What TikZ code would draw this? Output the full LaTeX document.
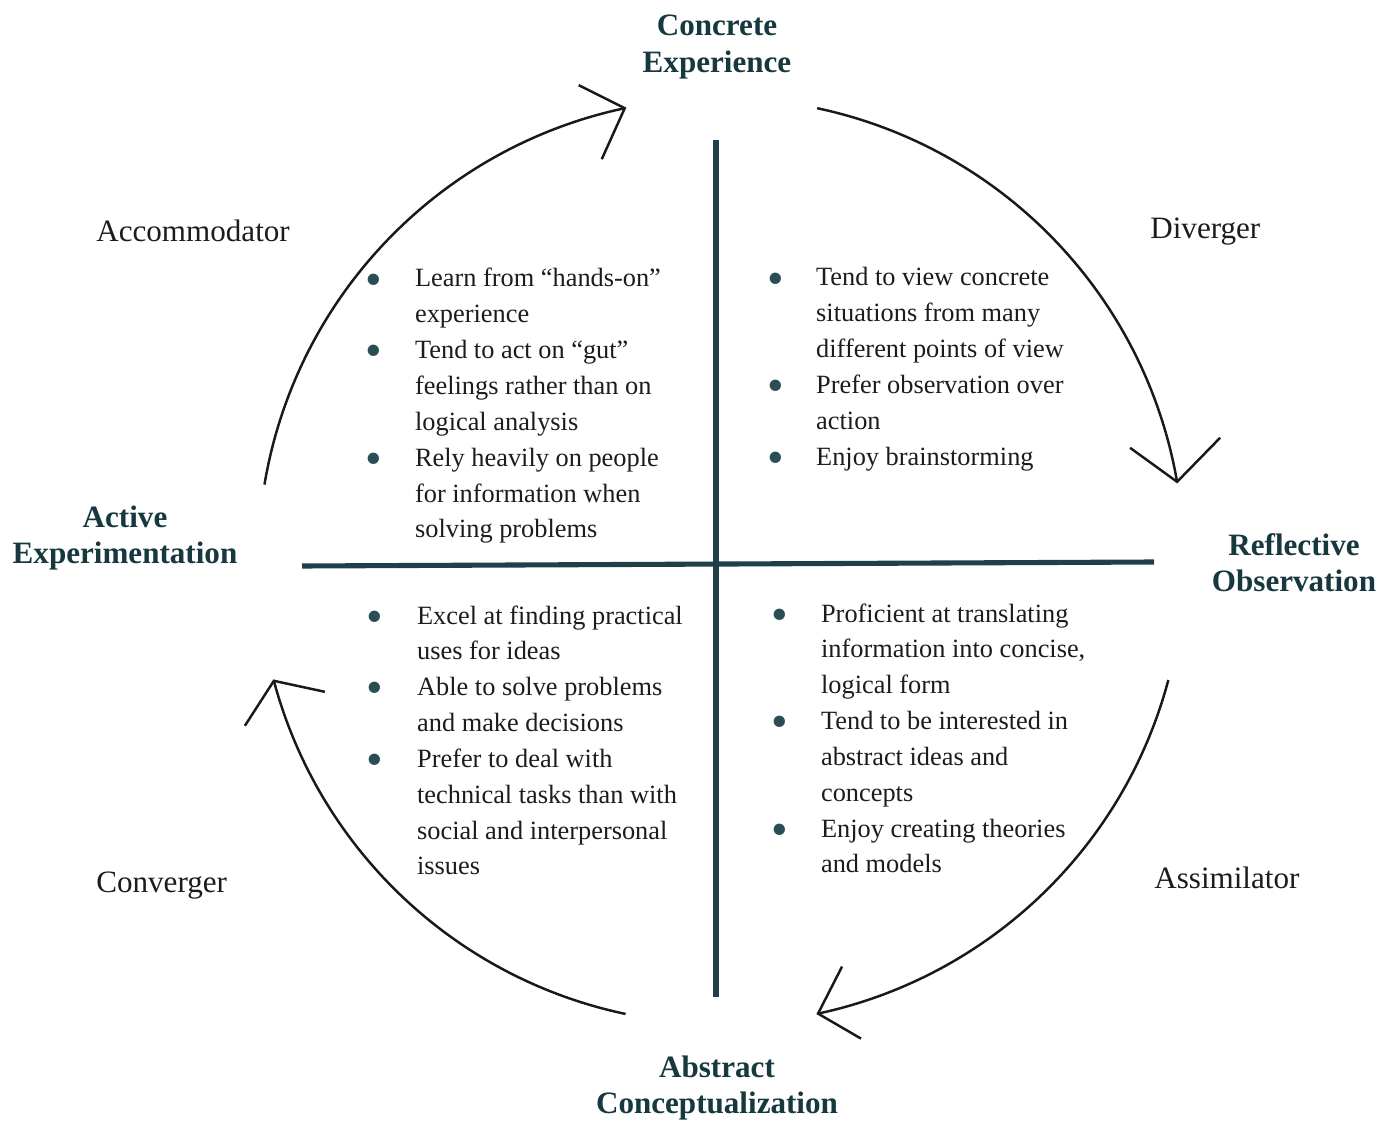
\documentclass[tikz,border=0pt]{standalone}
\usepackage{fontspec}
\setmainfont{Liberation Serif}
\usepackage{array}
\definecolor{crossteal}{HTML}{1F4048}
\definecolor{labelteal}{HTML}{17383F}
\definecolor{bullteal}{HTML}{2B4D55}
\definecolor{bodyink}{HTML}{1C1C1C}
% list bullet
\newcommand{\itemdot}{\hspace*{-1.6pt}\raisebox{-4.6pt}{\fontsize{27}{27}\selectfont\textcolor{bullteal}{\textbullet}}}
\begin{document}
\begin{tikzpicture}[x=0.02cm, y=-0.02cm,
  crossline/.style={draw=crossteal, line width=2.9pt},
  cyclearc/.style={draw=black!90, line width=1.4pt, line join=miter},
  boldlabel/.style={inner sep=0pt, anchor=base, text=labelteal,
    font=\fontsize{17.7}{21}\selectfont\bfseries},
  stylelabel/.style={inner sep=0pt, anchor=base west, text=bodyink,
    font=\fontsize{17.7}{21}\selectfont},
  itemlist/.style={inner sep=0pt, anchor=base west, text=bodyink,
    font=\fontsize{15}{20.4}\selectfont}
]
\useasboundingbox (0,0) rectangle (1394,1125);
\fill[white] (0,0) rectangle (1394,1125);

% centre of the learning cycle
\coordinate (C) at (721,561);

% quadrant cross
\coordinate (vtop) at (716,140);
\coordinate (vbot) at (716,997);
\coordinate (hleft) at (302,566);
\coordinate (hright) at (1154,562);
\draw[crossline] (vtop) -- (vbot);
\draw[crossline] (hleft) -- (hright);

% four arcs of the cycle, clockwise
\draw[cyclearc] ([shift={(170.5:9.26cm)}]C) arc[start angle=170.5, end angle=102, radius=9.26cm] coordinate (tipCE);
\draw[cyclearc] ([shift={(78:9.26cm)}]C) arc[start angle=78, end angle=9.85, radius=9.26cm] coordinate (tipRO);
\draw[cyclearc] ([shift={(-14.9:9.26cm)}]C) arc[start angle=-14.9, end angle=-77.9, radius=9.26cm] coordinate (tipAC);
\draw[cyclearc] ([shift={(-101.9:9.26cm)}]C) arc[start angle=-101.9, end angle=-165, radius=9.26cm] coordinate (tipAE);

% open arrowheads
\draw[cyclearc] (tipCE) ++(-46,-23) -- (tipCE) -- ++(-23,51);
\draw[cyclearc] (tipRO) ++(-47,-34) -- (tipRO) -- ++(43,-44);
\draw[cyclearc] (tipAC) ++(24,-47) -- (tipAC) -- ++(43,25);
\draw[cyclearc] (tipAE) ++(-29,45) -- (tipAE) -- ++(51,11);

% stage names
\node[boldlabel] (ce) at (717,36) {\begin{tabular}[t]{@{}c@{}}Concrete\\Experience\end{tabular}};
\node[boldlabel] (ro) at (1294,555) {\begin{tabular}[t]{@{}c@{}}Reflective\\Observation\end{tabular}};
\node[boldlabel] (ac) at (717,1077) {\begin{tabular}[t]{@{}c@{}}Abstract\\Conceptualization\end{tabular}};
\node[boldlabel] (ae) at (125,527) {\begin{tabular}[t]{@{}c@{}}Active\\Experimentation\end{tabular}};

% learning styles
\node[stylelabel] (acc) at (96,242) {Accommodator};
\node[stylelabel] (div) at (1150,239) {Diverger};
\node[stylelabel] (conv) at (96,892) {Converger};
\node[stylelabel] (assim) at (1154,888) {Assimilator};

% characteristics of each style
\node[itemlist] (listacc) at (368,287) {\begin{tabular}[t]{@{}p{26.6pt}@{}l@{}}
\itemdot & Learn from “hands-on”\\
 & experience\\
\itemdot & Tend to act on “gut”\\
 & feelings rather than on\\
 & logical analysis\\
\itemdot & Rely heavily on people\\
 & for information when\\
 & solving problems
\end{tabular}};

\node[itemlist] (listdiv) at (770,286) {\begin{tabular}[t]{@{}p{26.1pt}@{}l@{}}
\itemdot & Tend to view concrete\\
 & situations from many\\
 & different points of view\\
\itemdot & Prefer observation over\\
 & action\\
\itemdot & Enjoy brainstorming
\end{tabular}};

\node[itemlist] (listconv) at (369,624) {\begin{tabular}[t]{@{}p{27.2pt}@{}l@{}}
\itemdot & Excel at finding practical\\
 & uses for ideas\\
\itemdot & Able to solve problems\\
 & and make decisions\\
\itemdot & Prefer to deal with\\
 & technical tasks than with\\
 & social and interpersonal\\
 & issues
\end{tabular}};

\node[itemlist] (listassim) at (774,622) {\begin{tabular}[t]{@{}p{26.6pt}@{}l@{}}
\itemdot & Proficient at translating\\
 & information into concise,\\
 & logical form\\
\itemdot & Tend to be interested in\\
 & abstract ideas and\\
 & concepts\\
\itemdot & Enjoy creating theories\\
 & and models
\end{tabular}};
\end{tikzpicture}
\end{document}
